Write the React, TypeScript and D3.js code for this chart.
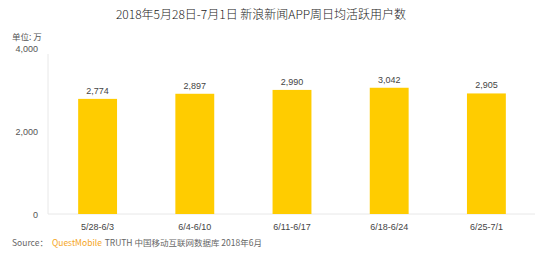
import React, { useEffect, useRef } from 'react';
import * as d3 from 'd3';

const categories = ['5/28-6/3', '6/4-6/10', '6/11-6/17', '6/18-6/24', '6/25-7/1'];
const values = [2774, 2897, 2990, 3042, 2905];
const yTicks = [0, 2000, 4000];

const App: React.FC = () => {
  const svgRef = useRef<SVGSVGElement>(null);

  useEffect(() => {
    if (!svgRef.current) return;
    const font = "'Microsoft YaHei', 'Noto Sans CJK SC', sans-serif";
    const numFont = "Arial, 'Liberation Sans', sans-serif";

    const svg = d3.select(svgRef.current);
    svg.selectAll('*').remove();

    const x = d3.scaleBand<string>().domain(categories).range([49, 535]).paddingInner(0.6).paddingOuter(0.3);
    const y = d3.scaleLinear().domain([0, 4000]).range([214, 48]);

    // Title
    svg.append('text')
      .attr('x', 261)
      .attr('y', 19)
      .attr('text-anchor', 'middle')
      .attr('font-family', font)
      .attr('font-size', 12)
      .attr('font-weight', 300)
      .attr('fill', '#222')
      .text('2018年5月28日-7月1日 新浪新闻APP周日均活跃用户数');

    svg.append('text')
      .attr('x', 12)
      .attr('y', 40)
      .attr('font-family', font)
      .attr('font-size', 8.5)
      .attr('fill', '#555')
      .text('单位: 万');

    // axis lines
    svg.append('line')
      .attr('x1', 48).attr('x2', 48)
      .attr('y1', y(4000) + 6).attr('y2', y(0))
      .attr('stroke', '#e8e8e8');
    svg.append('line')
      .attr('x1', 48).attr('x2', 535)
      .attr('y1', y(0)).attr('y2', y(0))
      .attr('stroke', '#e8e8e8');

    svg.append('g').selectAll('text').data(yTicks).join('text')
      .attr('x', 38)
      .attr('y', d => y(d) + 3.5)
      .attr('text-anchor', 'end')
      .attr('font-family', numFont)
      .attr('font-size', 9)
      .attr('fill', '#555')
      .text(d => d3.format(',')(d));

    svg.append('g').selectAll('rect').data(values).join('rect')
      .attr('x', (_, i) => x(categories[i])!)
      .attr('y', d => y(d))
      .attr('width', x.bandwidth())
      .attr('height', d => y(0) - y(d))
      .attr('fill', '#FFCC00');

    svg.append('g').selectAll('text').data(values).join('text')
      .attr('x', (_, i) => x(categories[i])! + x.bandwidth() / 2)
      .attr('y', d => y(d) - 5)
      .attr('text-anchor', 'middle')
      .attr('font-family', numFont)
      .attr('font-size', 9)
      .attr('fill', '#444')
      .text(d => d3.format(',')(d));

    svg.append('g').selectAll('text').data(categories).join('text')
      .attr('x', d => x(d)! + x.bandwidth() / 2)
      .attr('y', 230)
      .attr('text-anchor', 'middle')
      .attr('font-family', numFont)
      .attr('font-size', 9)
      .attr('fill', '#444')
      .text(d => d);

    const src = svg.append('text')
      .attr('x', 12)
      .attr('y', 246)
      .attr('font-family', font)
      .attr('font-size', 8.5)
      .attr('fill', '#666');
    src.append('tspan').text('Source：');
    src.append('tspan').attr('dx', 4).attr('fill', '#F5A623').text('QuestMobile');
    src.append('tspan').attr('dx', 3).text('TRUTH 中国移动互联网数据库 2018年6月');
  }, []);

  return (
    <svg
      ref={svgRef}
      width={548}
      height={256}
      style={{ position: 'absolute', left: 0, top: 0, background: '#fff' }}
    />
  );
};

export default App;
